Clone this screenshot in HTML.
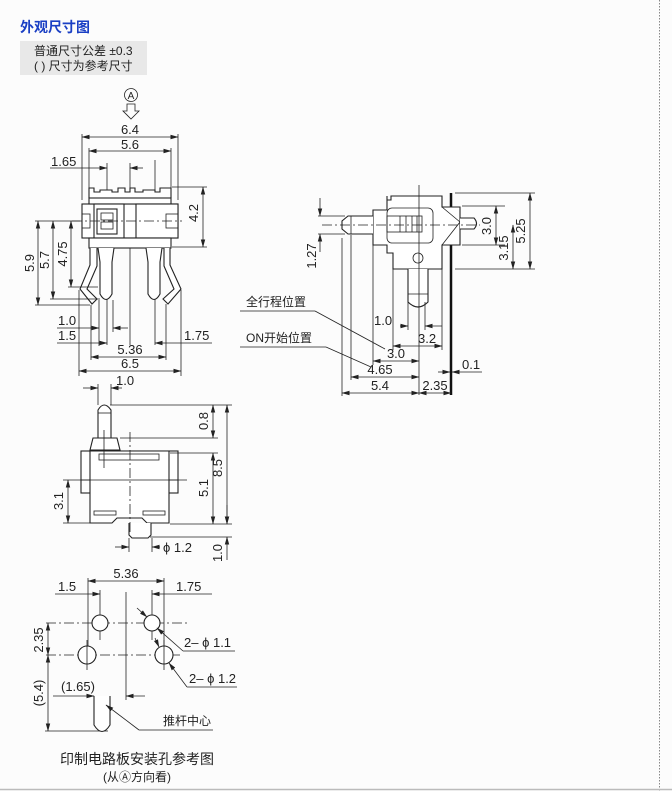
<!DOCTYPE html>
<html><head><meta charset="utf-8"><style>
body{margin:0;background:#fcfcfc;width:672px;height:791px;overflow:hidden;font-family:"Liberation Sans","Noto Sans CJK SC",sans-serif}
svg{position:absolute;left:0;top:0}
text{font-family:"Liberation Sans","Noto Sans CJK SC",sans-serif;fill:#222;font-size:13px}
.l{stroke:#222;stroke-width:0.8;fill:none}
.d{stroke:#222;stroke-width:0.8;fill:none;marker-start:url(#a);marker-end:url(#a)}
.e{stroke:#222;stroke-width:0.8;fill:none;marker-end:url(#a)}
.c{stroke:#222;stroke-width:0.8;fill:none;stroke-dasharray:10 3 2 3}
.b{stroke:#222;stroke-width:1.1;fill:#fff}
.g{stroke:#777;stroke-width:1.3;fill:none}
</style></head><body>
<svg width="672" height="791" viewBox="0 0 672 791">
<defs><marker id="a" markerWidth="8" markerHeight="6" refX="7.5" refY="3" orient="auto-start-reverse" markerUnits="userSpaceOnUse"><path d="M0,0.8 L8,3 L0,5.2z" fill="#222"/></marker></defs>
<line x1="659.5" y1="0" x2="659.5" y2="791" stroke="#888" stroke-width="1" stroke-dasharray="1.5 1.5"/>
<line x1="0" y1="789.5" x2="672" y2="789.5" stroke="#bbb" stroke-width="1.5"/>
<text x="20" y="32" style="font-size:14px;font-weight:bold;fill:#1a3fc4">外观尺寸图</text>
<rect x="20" y="41" width="127" height="34" fill="#e8e8e8"/>
<text x="34" y="55" style="font-size:12px">普通尺寸公差 ±0.3</text>
<text x="34" y="70" style="font-size:12px">( ) 尺寸为参考尺寸</text>

<!-- VIEW 1 -->
<circle cx="131" cy="95" r="6.5" class="l"/><text x="131" y="99" text-anchor="middle" style="font-size:10px">A</text>
<path d="M127,104 L135,104 L135,111 L139,111 L131,119 L123,111 L127,111z" class="l"/>
<line x1="82" y1="134" x2="82" y2="200" class="l"/><line x1="178" y1="134" x2="178" y2="200" class="l"/>
<line x1="82" y1="137" x2="178" y2="137" class="d"/><text x="130" y="134" text-anchor="middle">6.4</text>
<line x1="89" y1="148" x2="89" y2="196" class="l"/><line x1="171" y1="148" x2="171" y2="196" class="l"/>
<line x1="89" y1="151" x2="171" y2="151" class="d"/><text x="130" y="149" text-anchor="middle">5.6</text>
<line x1="50" y1="168" x2="107" y2="168" class="e"/><line x1="143" y1="168" x2="130" y2="168" class="e"/>
<text x="51" y="166">1.65</text>
<line x1="107" y1="163" x2="107" y2="345" class="l"/><line x1="130" y1="163" x2="130" y2="345" class="l"/><line x1="155" y1="160" x2="155" y2="345" class="l"/>
<path d="M89,198 L89,188 L94,188 L94,192 L100,192 L100,190 L112,190 L112,192 L118,192 L118,188 L125,188 L125,192 L130,192 L130,188 L135,188 L135,192 L143,192 L143,190 L155,190 L155,192 L160,192 L160,188 L171,188 L171,198" class="b"/>
<rect x="82" y="204" width="96" height="34" class="b"/>
<rect x="89" y="198" width="82" height="6" class="b"/>
<rect x="94" y="204" width="30" height="34" class="b"/><rect x="97" y="209" width="20" height="25" class="b" stroke-width="1.6"/>
<rect x="101" y="213" width="12" height="7" class="l"/><rect x="101" y="222" width="12" height="7" class="l"/>
<rect x="136" y="204" width="42" height="34" class="b"/><rect x="166" y="214" width="12" height="14" class="l"/>
<rect x="82" y="214" width="8" height="14" class="l"/>
<line x1="72" y1="221" x2="182" y2="221" class="c"/>
<rect x="89" y="238" width="82" height="10" class="b"/>
<line x1="172" y1="187" x2="207" y2="187" class="l"/><line x1="172" y1="247" x2="207" y2="247" class="l"/>
<line x1="203" y1="187" x2="203" y2="247" class="d"/><text transform="rotate(-90 198 213)" x="198" y="213" text-anchor="middle">4.2</text>
<path d="M90,248 L90,265 L80,289 L92,304 L97,299 L87,289 L97,266 L97,248" class="b"/>
<path d="M170,248 L170,265 L181,289 L168,304 L163,299 L174,289 L164,266 L164,248" class="b"/>
<path d="M98,248 L100,262 L100,294 Q106,305 112,294 L112,262 L114,248" class="b"/>
<path d="M146,248 L148,262 L148,294 Q154,305 160,294 L160,262 L162,248" class="b"/>
<line x1="35" y1="221" x2="80" y2="221" class="l"/><line x1="35" y1="305" x2="90" y2="305" class="l"/>
<line x1="50" y1="299" x2="100" y2="299" class="l"/><line x1="68" y1="287" x2="98" y2="287" class="l"/>
<line x1="38" y1="221" x2="38" y2="305" class="d"/><text transform="rotate(-90 34 263)" x="34" y="263" text-anchor="middle">5.9</text>
<line x1="53" y1="221" x2="53" y2="299" class="d"/><text transform="rotate(-90 49 260)" x="49" y="260" text-anchor="middle">5.7</text>
<line x1="71" y1="221" x2="71" y2="287" class="d"/><text transform="rotate(-90 67 254)" x="67" y="254" text-anchor="middle">4.75</text>
<line x1="91" y1="305" x2="91" y2="360" class="l"/><line x1="99" y1="300" x2="99" y2="346" class="l"/><line x1="113" y1="300" x2="113" y2="332" class="l"/><line x1="166" y1="304" x2="166" y2="360" class="l"/>
<line x1="79" y1="290" x2="79" y2="376" class="l"/><line x1="181" y1="290" x2="181" y2="376" class="l"/>
<line x1="57" y1="328" x2="99" y2="328" class="e"/><line x1="128" y1="328" x2="113" y2="328" class="e"/><text x="58" y="325">1.0</text>
<line x1="57" y1="343" x2="107" y2="343" class="e"/><text x="58" y="340">1.5</text>
<line x1="212" y1="343" x2="155" y2="343" class="e"/><text x="184" y="340">1.75</text>
<line x1="91" y1="357" x2="166" y2="357" class="d"/><text x="130" y="354" text-anchor="middle">5.36</text>
<line x1="79" y1="371" x2="181" y2="371" class="d"/><text x="130" y="368" text-anchor="middle">6.5</text>

<!-- VIEW 3 -->
<line x1="98" y1="384" x2="98" y2="405" class="l"/><line x1="111" y1="384" x2="111" y2="405" class="l"/>
<line x1="83" y1="388" x2="98" y2="388" class="e"/><line x1="122" y1="388" x2="111" y2="388" class="e"/><text x="116" y="385">1.0</text>
<path d="M98,438 L98,410 Q104,400 111,410 L111,438" class="b"/><line x1="98" y1="413" x2="111" y2="413" class="l"/>
<path d="M90,450 L93,438 L117,438 L120,450z" class="b"/>
<rect x="81" y="451" width="97" height="42" class="b"/>
<path d="M90,451 L169,451 L169,523 L147,523 L142,518 L117,518 L112,523 L90,523z" class="b" stroke="#666" stroke-width="1.4"/>
<rect x="81" y="480" width="9" height="13" class="l"/><rect x="169" y="480" width="9" height="13" class="l"/>
<rect x="99" y="454" width="60" height="6" class="l"/>
<rect x="94" y="511" width="22" height="4" class="l"/><rect x="143" y="511" width="22" height="4" class="l"/>
<path d="M129,523 L129,535 L132,538 L148,538 L151,535 L151,523" class="b"/>
<line x1="104" y1="430" x2="104" y2="468" class="l"/>
<line x1="130" y1="432" x2="130" y2="535" class="c"/>
<line x1="110" y1="405" x2="232" y2="405" class="l"/><line x1="120" y1="438" x2="218" y2="438" class="l"/>
<line x1="170" y1="453" x2="218" y2="453" class="l"/><line x1="170" y1="524" x2="232" y2="524" class="l"/><line x1="150" y1="537" x2="232" y2="537" class="l"/>
<line x1="213" y1="405" x2="213" y2="438" class="d"/><text transform="rotate(-90 208 421)" x="208" y="421" text-anchor="middle">0.8</text>
<line x1="227" y1="405" x2="227" y2="524" class="d"/><text transform="rotate(-90 222 468)" x="222" y="468" text-anchor="middle">8.5</text>
<line x1="213" y1="453" x2="213" y2="524" class="d"/><text transform="rotate(-90 208 488)" x="208" y="488" text-anchor="middle">5.1</text>
<line x1="227" y1="560" x2="227" y2="537" class="e"/><line x1="227" y1="505" x2="227" y2="524" class="e"/><text transform="rotate(-90 222 553)" x="222" y="553" text-anchor="middle">1.0</text>
<line x1="63" y1="480" x2="187" y2="480" class="l"/><line x1="63" y1="523" x2="90" y2="523" class="l"/>
<line x1="68" y1="480" x2="68" y2="523" class="d"/><text transform="rotate(-90 63 501)" x="63" y="501" text-anchor="middle">3.1</text>
<line x1="129" y1="538" x2="129" y2="552" class="l"/><line x1="152" y1="538" x2="152" y2="552" class="l"/>
<line x1="115" y1="547" x2="129" y2="547" class="e"/><line x1="160" y1="547" x2="152" y2="547" class="e"/>
<text x="163" y="552">ϕ 1.2</text>

<!-- VIEW 4 -->
<line x1="88" y1="578" x2="88" y2="652" class="l"/><line x1="164" y1="578" x2="164" y2="660" class="l"/>
<line x1="88" y1="581" x2="164" y2="581" class="d"/><text x="126" y="578" text-anchor="middle">5.36</text>
<line x1="55" y1="594" x2="100" y2="594" class="e"/><text x="58" y="591">1.5</text>
<line x1="212" y1="594" x2="152" y2="594" class="e"/><text x="176" y="591">1.75</text>
<line x1="100" y1="590" x2="100" y2="640" class="l"/><line x1="152" y1="590" x2="152" y2="640" class="l"/>
<line x1="126" y1="592" x2="126" y2="700" class="l"/>
<line x1="46" y1="623" x2="190" y2="623" class="c"/><line x1="46" y1="655" x2="180" y2="655" class="c"/>
<circle cx="100" cy="623" r="8" class="b"/><circle cx="152" cy="623" r="8" class="b"/>
<circle cx="87" cy="655" r="9" class="b"/><circle cx="164" cy="655" r="9" class="b"/>
<line x1="87" y1="640" x2="87" y2="670" class="l"/><line x1="164" y1="640" x2="164" y2="670" class="l"/>
<line x1="48" y1="623" x2="48" y2="655" class="d"/><text transform="rotate(-90 43 640)" x="43" y="640" text-anchor="middle">2.35</text>
<line x1="48" y1="655" x2="48" y2="731" class="d"/><text transform="rotate(-90 43 693)" x="43" y="693" text-anchor="middle">(5.4)</text>
<line x1="45" y1="731" x2="108" y2="731" class="l"/>
<line x1="53" y1="696" x2="94" y2="696" class="e"/><line x1="145" y1="696" x2="126" y2="696" class="e"/><text x="61" y="691">(1.65)</text>
<path d="M94,696 L94,725 Q102,738 110,725 L110,696" class="b"/>
<line x1="139" y1="730" x2="106" y2="705" class="e"/><line x1="139" y1="730" x2="213" y2="730" class="g"/><text x="163" y="725" style="font-size:12px">推杆中心</text>
<line x1="137" y1="608" x2="147" y2="617" class="e"/><line x1="183" y1="651" x2="157" y2="628" class="e"/><line x1="183" y1="651" x2="235" y2="651" class="g"/><text x="184" y="647">2– ϕ 1.1</text>
<line x1="155" y1="638" x2="159" y2="647" class="e"/><line x1="187" y1="687" x2="169" y2="663" class="e"/><line x1="187" y1="687" x2="237" y2="687" class="g"/><text x="189" y="683">2– ϕ 1.2</text>
<text x="137" y="764" text-anchor="middle" style="font-size:14px">印制电路板安装孔参考图</text>
<text x="137" y="781" text-anchor="middle" style="font-size:12px">(从Ⓐ方向看)</text>

<!-- VIEW 2 -->
<line x1="451" y1="193" x2="451" y2="395" stroke="#111" stroke-width="2.5"/>
<path d="M387,196 L387,200 L391,200 L391,196 L442,196 L442,207 L460,207 L460,245 L442,245 L442,269 L393,269 L393,253 L387,253 L387,245 L373,245 L373,210 L387,210 L387,196" class="b"/>
<path d="M442,207 L460,222 L442,245" class="l"/>
<rect x="387" y="208" width="46" height="35" rx="5" class="l" stroke-width="1.4"/>
<rect x="387" y="216" width="35" height="16" class="l"/>
<line x1="400" y1="216" x2="400" y2="232" class="l"/><line x1="406" y1="216" x2="406" y2="232" class="l"/><line x1="412" y1="216" x2="412" y2="232" class="l"/><line x1="417" y1="216" x2="417" y2="232" class="l"/>
<path d="M373,216 L348,216 L342,221 L342,229 L348,234 L373,234" class="b"/><line x1="351" y1="216" x2="351" y2="234" class="l"/>
<path d="M460,218 L474,218 Q479,223.5 474,229 L460,229" class="b"/>
<circle cx="418" cy="258" r="5" class="l"/>
<path d="M408,269 L408,302 Q418,312 428,302 L428,269" class="b"/><line x1="408" y1="294" x2="428" y2="294" class="l"/>
<line x1="419" y1="185" x2="419" y2="395" class="l"/>
<line x1="322" y1="225" x2="480" y2="225" class="c"/>
<line x1="318" y1="216" x2="345" y2="216" class="l"/><line x1="318" y1="234" x2="345" y2="234" class="l"/>
<line x1="320" y1="198" x2="320" y2="216" class="e"/><line x1="320" y1="252" x2="320" y2="234" class="e"/><text transform="rotate(-90 316 256)" x="316" y="256" text-anchor="middle">1.27</text>
<line x1="462" y1="206" x2="505" y2="206" class="l"/><line x1="462" y1="245" x2="505" y2="245" class="l"/>
<line x1="496" y1="206" x2="496" y2="245" class="d"/><text transform="rotate(-90 491 226)" x="491" y="226" text-anchor="middle">3.0</text>
<line x1="513" y1="225" x2="513" y2="269" class="d"/><text transform="rotate(-90 508 248)" x="508" y="248" text-anchor="middle">3.15</text>
<line x1="455" y1="193" x2="535" y2="193" class="l"/><line x1="455" y1="269" x2="535" y2="269" class="l"/>
<line x1="530" y1="193" x2="530" y2="269" class="d"/><text transform="rotate(-90 525 231)" x="525" y="231" text-anchor="middle">5.25</text>
<line x1="408" y1="302" x2="408" y2="330" class="l"/><line x1="425" y1="302" x2="425" y2="330" class="l"/>
<line x1="400" y1="326" x2="408" y2="326" class="e"/><line x1="442" y1="326" x2="425" y2="326" class="e"/><text x="374" y="325">1.0</text>
<line x1="393" y1="269" x2="393" y2="350" class="l"/><line x1="442" y1="269" x2="442" y2="350" class="l"/>
<line x1="393" y1="346" x2="442" y2="346" class="d"/><text x="418" y="343">3.2</text>
<line x1="373" y1="245" x2="373" y2="365" class="l"/><line x1="373" y1="361" x2="419" y2="361" class="d"/><text x="396" y="358" text-anchor="middle">3.0</text>
<line x1="351" y1="235" x2="351" y2="380" class="l"/><line x1="351" y1="377" x2="419" y2="377" class="d"/><text x="380" y="374" text-anchor="middle">4.65</text>
<line x1="342" y1="238" x2="342" y2="396" class="l"/><line x1="342" y1="393" x2="419" y2="393" class="d"/><text x="380" y="390" text-anchor="middle">5.4</text>
<line x1="419" y1="393" x2="451" y2="393" class="d"/><text x="435" y="390" text-anchor="middle">2.35</text>
<line x1="438" y1="372" x2="450" y2="372" class="e"/><line x1="482" y1="372" x2="452" y2="372" class="e"/><text x="462" y="369">0.1</text>
<text x="246" y="306" style="font-size:12px">全行程位置</text><line x1="240" y1="311" x2="315" y2="311" class="g"/><line x1="315" y1="311" x2="385" y2="349" class="l"/>
<text x="246" y="342" style="font-size:12px">ON开始位置</text><line x1="240" y1="347" x2="326" y2="347" class="g"/><line x1="326" y1="347" x2="371" y2="367" class="l"/>
</svg>
</body></html>
